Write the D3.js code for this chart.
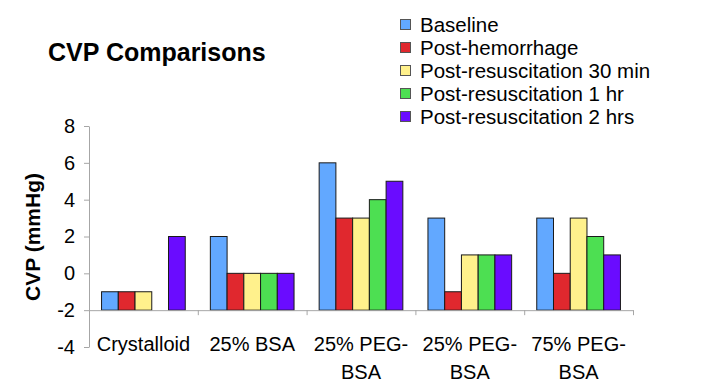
<!DOCTYPE html>
<html>
<head>
<meta charset="utf-8">
<script src="https://cdn.jsdelivr.net/npm/d3@7"></script>
<style>
  body { margin: 0; background: #fff; }
  svg text { font-family: "Liberation Sans", Arial, sans-serif; fill: #000; }
</style>
</head>
<body>
<div id="chart"></div>
<script>
// data
const categories = ["Crystalloid", "25% BSA", "25% PEG-BSA", "25% PEG-BSA", "75% PEG-BSA"];
const seriesNames = ["Baseline", "Post-hemorrhage", "Post-resuscitation 30 min",
                     "Post-resuscitation 1 hr", "Post-resuscitation 2 hrs"];
const seriesColors = ["#62a8ff", "#e0282e", "#fff18c", "#4ddf52", "#6a0cff"];
const baseline = [-1, 2, 6, 3, 3];
const postHemorrhage = [-1, 0, 3, -1, 0];
const postResus30 = [-1, 0, 3, 1, 3];
const postResus1h = [null, 0, 4, 1, 2];
const postResus2h = [2, 0, 5, 1, 1];
const yTicks = [-4, -2, 0, 2, 4, 6, 8];

const values = [baseline, postHemorrhage, postResus30, postResus1h, postResus2h];

const width = 704, height = 384;
const margin = {top: 126, right: 71, bottom: 37, left: 89};

const svg = d3.select("#chart").append("svg")
    .attr("width", width)
    .attr("height", height);

// scales
const y = d3.scaleLinear()
    .domain([-4, 8])
    .range([height - margin.bottom, margin.top]);

const x0 = d3.scaleBand()
    .domain(d3.range(categories.length))
    .range([margin.left, width - margin.right])
    .padding(0);

const x1 = d3.scaleBand()
    .domain(d3.range(seriesNames.length))
    .range([0, x0.bandwidth()])
    .paddingInner(0)
    .paddingOuter(0.75);

// bars grow from the category axis at -2
const bars = [];
categories.forEach((c, i) => {
  values.forEach((s, j) => {
    if (s[i] !== null) bars.push({cat: i, ser: j, v: s[i]});
  });
});

svg.append("g")
  .selectAll("rect")
  .data(bars)
  .join("rect")
    .attr("x", d => x0(d.cat) + x1(d.ser))
    .attr("y", d => Math.min(y(d.v), y(-2)))
    .attr("width", x1.bandwidth())
    .attr("height", d => Math.abs(y(-2) - y(d.v)))
    .attr("fill", d => seriesColors[d.ser])
    .attr("stroke", "#1a1a1a")
    .attr("stroke-width", 1);

// y axis (plain hyphen for negatives, like the original)
svg.append("g")
    .attr("transform", `translate(${margin.left},0)`)
    .call(d3.axisLeft(y).tickValues(yTicks).tickFormat(d => String(d))
      .tickSize(5).tickSizeOuter(0).tickPadding(9))
    .call(g => g.selectAll("path, line").attr("stroke", "#a6a6a6"))
    .call(g => g.selectAll("text").attr("font-size", 20).attr("font-family", null));

// x axis line at -2 with ticks between categories
const xb = d3.scaleLinear().domain([0, categories.length]).range(x0.range());
svg.append("g")
    .attr("transform", `translate(0,${y(-2)})`)
    .call(d3.axisBottom(xb).ticks(categories.length).tickSize(5).tickSizeOuter(0).tickFormat(""))
    .call(g => g.selectAll(".tick").filter(d => d === 0).remove())
    .call(g => g.selectAll("path, line").attr("stroke", "#a6a6a6"));

// category labels, wrapped after "PEG-"
svg.append("g")
  .selectAll("text")
  .data(categories)
  .join("text")
    .attr("text-anchor", "middle")
    .attr("font-size", 20)
    .attr("transform", (d, i) => `translate(${x0(i) + x0.bandwidth() / 2},351)`)
  .selectAll("tspan")
  .data(d => d.replace(/-(?=\w)/, "-\n").split("\n"))
  .join("tspan")
    .attr("x", 0)
    .attr("y", (d, k) => k * 27.5)
    .text(d => d);

// y axis title
svg.append("text")
    .attr("transform", "translate(40,237) rotate(-90)")
    .attr("text-anchor", "middle")
    .attr("font-size", 21)
    .attr("font-weight", "bold")
    .text("CVP (mmHg)");

// title
svg.append("text")
    .attr("x", 48)
    .attr("y", 61)
    .attr("font-size", 25)
    .attr("font-weight", "bold")
    .text("CVP Comparisons");

// legend
const legend = svg.append("g")
    .attr("transform", "translate(400,25)");

const item = legend.selectAll("g")
  .data(seriesNames)
  .join("g")
    .attr("transform", (d, i) => `translate(0,${i * 23})`);

item.append("rect")
    .attr("x", 0.5)
    .attr("y", -5.5)
    .attr("width", 10)
    .attr("height", 10)
    .attr("fill", (d, i) => seriesColors[i])
    .attr("stroke", "#555");

item.append("text")
    .attr("x", 20)
    .attr("y", 7)
    .attr("font-size", 20.5)
    .text(d => d);
</script>
</body>
</html>
